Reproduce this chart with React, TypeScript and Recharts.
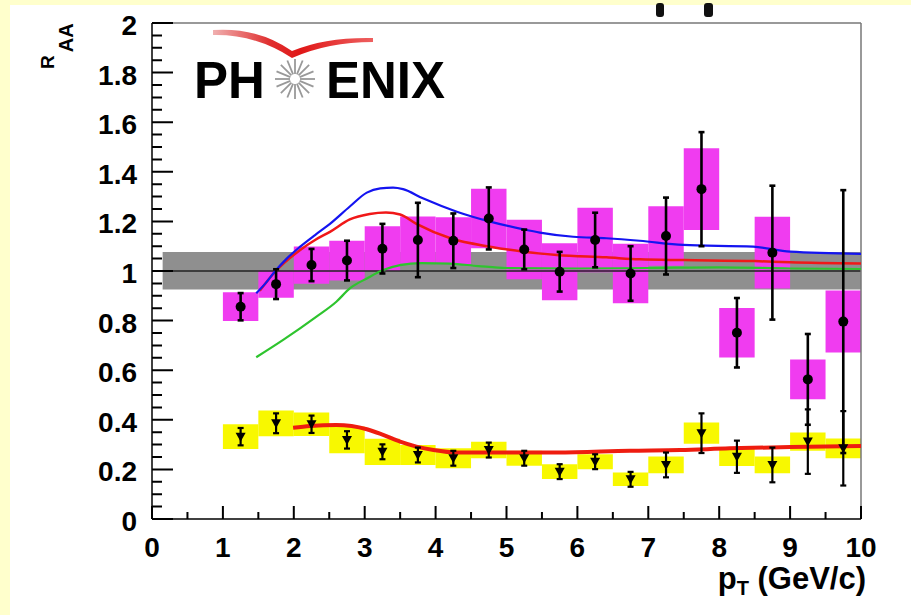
import {
  ComposedChart,
  XAxis,
  YAxis,
  Line,
  Scatter,
  ErrorBar,
  ReferenceArea,
  ReferenceLine,
  Customized,
} from "recharts"

const FONT = "'Liberation Sans', Arial, Helvetica, sans-serif"

// pT bin centres (GeV/c), bins are 0.5 wide
const ptBins = [1.25, 1.75, 2.25, 2.75, 3.25, 3.75, 4.25, 4.75, 5.25, 5.75, 6.25, 6.75, 7.25, 7.75, 8.25, 8.75, 9.25, 9.75]
const binHalf = 0.25

// upper set (magenta boxes)
const upperRaa = [0.856, 0.947, 1.024, 1.042, 1.09, 1.125, 1.122, 1.212, 1.087, 0.997, 1.125, 0.99, 1.141, 1.33, 0.751, 1.074, 0.563, 0.796]
const upperStat = [0.055, 0.06, 0.065, 0.08, 0.1, 0.15, 0.11, 0.125, 0.08, 0.08, 0.11, 0.11, 0.155, 0.23, 0.14, 0.27, 0.183, 0.53]
const upperSys = [0.058, 0.055, 0.075, 0.08, 0.09, 0.095, 0.095, 0.12, 0.12, 0.115, 0.13, 0.12, 0.12, 0.165, 0.1, 0.145, 0.08, 0.125]

// lower set (yellow boxes)
const lowerRaa = [0.332, 0.386, 0.382, 0.319, 0.271, 0.258, 0.245, 0.278, 0.245, 0.191, 0.231, 0.16, 0.218, 0.346, 0.251, 0.218, 0.312, 0.285]
const lowerStat = [0.035, 0.04, 0.035, 0.035, 0.03, 0.03, 0.03, 0.03, 0.03, 0.03, 0.03, 0.03, 0.05, 0.08, 0.065, 0.07, 0.13, 0.15]
const lowerSys = [0.05, 0.052, 0.047, 0.054, 0.053, 0.04, 0.04, 0.033, 0.03, 0.03, 0.03, 0.027, 0.034, 0.043, 0.037, 0.034, 0.037, 0.04]

// normalisation uncertainty band around 1
const normFrom = 0.15
const normLow = 0.925
const normHigh = 1.077

// model curves
const bluePt = [1.47, 1.6, 1.73, 1.9, 2.09, 2.3, 2.51, 2.79, 3.03, 3.22, 3.4, 3.54, 3.82, 4.3, 4.77, 5.24, 5.47, 5.94, 6.41, 6.88, 7.49, 8.48, 9.0, 10]
const blueRaa = [0.91, 0.95, 0.997, 1.05, 1.098, 1.145, 1.19, 1.26, 1.316, 1.333, 1.336, 1.33, 1.293, 1.239, 1.199, 1.168, 1.155, 1.138, 1.132, 1.122, 1.105, 1.098, 1.078, 1.069]

const redPt = [1.52, 1.73, 2.09, 2.3, 2.51, 2.79, 3.07, 3.3, 3.5, 3.73, 4.22, 4.77, 5.24, 5.71, 6.41, 6.88, 7.5, 8.5, 9.0, 10]
const redRaa = [0.92, 0.995, 1.085, 1.125, 1.158, 1.208, 1.23, 1.236, 1.228, 1.19, 1.131, 1.098, 1.078, 1.065, 1.055, 1.047, 1.044, 1.04, 1.035, 1.03]

const greenPt = [1.47, 1.85, 2.32, 2.6, 2.79, 3.03, 3.26, 3.5, 3.8, 4.2, 4.6, 5.0, 6.0, 7.0, 8.0, 9.0, 10]
const greenRaa = [0.652, 0.722, 0.816, 0.876, 0.93, 0.97, 1.004, 1.024, 1.032, 1.03, 1.02, 1.012, 1.01, 1.012, 1.015, 1.01, 1.008]

const lowRedPt = [1.99, 2.23, 2.6, 3.03, 3.26, 3.5, 3.73, 3.97, 4.3, 5.24, 5.71, 6.74, 7.45, 8.15, 9.0, 10]
const lowRedRaa = [0.368, 0.375, 0.379, 0.362, 0.339, 0.312, 0.292, 0.278, 0.268, 0.268, 0.268, 0.275, 0.278, 0.285, 0.29, 0.294]

// axis ticks: labelled majors and unlabelled minors
const xMajor = [0, 1, 2, 3, 4, 5, 6, 7, 8, 9, 10]
const xMinor = [0.5, 1.5, 2.5, 3.5, 4.5, 5.5, 6.5, 7.5, 8.5, 9.5]
const yMajor = [0, 0.2, 0.4, 0.6, 0.8, 1, 1.2, 1.4, 1.6, 1.8, 2]
const yMinor = [
  0.05, 0.1, 0.15, 0.25, 0.3, 0.35, 0.45, 0.5, 0.55, 0.65, 0.7, 0.75, 0.85, 0.9, 0.95,
  1.05, 1.1, 1.15, 1.25, 1.3, 1.35, 1.45, 1.5, 1.55, 1.65, 1.7, 1.75, 1.85, 1.9, 1.95,
]

// plot frame in px (margins + axis sizes below)
const W = 911
const H = 615
const M = { top: 23, right: 50, bottom: 66, left: 92 }
const Y_AXIS_W = 60
const X_AXIS_H = 30
const FRAME = { l: M.left + Y_AXIS_W, r: W - M.right, t: M.top, b: H - M.bottom - X_AXIS_H }
const px = (v: number) => FRAME.l + (v / 10) * (FRAME.r - FRAME.l)
const py = (v: number) => FRAME.b - (v / 2) * (FRAME.b - FRAME.t)

const toXY = (xs: number[], ys: number[]) => xs.map((x, i) => ({ x, y: ys[i] }))

const upperData = ptBins.map((x, i) => ({ x, y: upperRaa[i], err: upperStat[i] }))
const lowerData = ptBins.map((x, i) => ({ x, y: lowerRaa[i], err: lowerStat[i] }))

const XLabel = ({ x, y, payload }: any) => (
  <text x={x} y={y + 38} textAnchor="middle" fontSize={28} fontWeight="bold" fontFamily={FONT} fill="#000">
    {payload.value}
  </text>
)

const YLabel = ({ x, y, payload }: any) => (
  <text x={x - 15} y={y + 12} textAnchor="end" fontSize={28} fontWeight="bold" fontFamily={FONT} fill="#000">
    {payload.value}
  </text>
)

const DownTriangle = ({ cx, cy }: any) => (
  <path d={`M${cx - 5},${cy - 4} L${cx + 5},${cy - 4} L${cx},${cy + 5} Z`} fill="#000" />
)

const Dot = ({ cx, cy }: any) => <circle cx={cx} cy={cy} r={5} fill="#000" />

const rays = [0, 22.5, 45, 67.5, 90, 112.5, 135, 157.5, 180, 202.5, 225, 247.5, 270, 292.5, 315, 337.5]

// inward ticks drawn as plain svg paths
const tickPath =
  [...xMajor, ...xMinor]
    .map((t) => `M${px(t)},${FRAME.b}V${FRAME.b - (xMajor.includes(t) ? 13 : 7)}`)
    .join("") +
  [...yMajor, ...yMinor]
    .map((t) => `M${FRAME.l},${py(t)}H${FRAME.l + (yMajor.includes(t) ? 21 : 10)}`)
    .join("")

// logo, axis titles and the scraps at the top edge
const Decor = () => (
  <g>
    <defs>
      <linearGradient id="swoosh" x1="0" x2="1" y1="0" y2="0">
        <stop offset="0" stopColor="#f0b0b0" />
        <stop offset="0.35" stopColor="#e03030" />
        <stop offset="0.55" stopColor="#e01818" />
        <stop offset="1" stopColor="#ee6060" />
      </linearGradient>
    </defs>
    <path
      d="M213,30 Q258,27 292,51 Q326,37 373,38 L373,42 Q328,42 292,58 Q255,34 213,35 Z"
      fill="url(#swoosh)"
    />
    {rays.map((a) => {
      const r = (a * Math.PI) / 180
      return (
        <line
          key={a}
          x1={295 + 5 * Math.cos(r)}
          y1={79 + 5 * Math.sin(r)}
          x2={295 + 20 * Math.cos(r)}
          y2={79 + 20 * Math.sin(r)}
          stroke="#999"
          strokeWidth={1.8}
        />
      )
    })}
    <text x={194} y={98} fontSize={51} fontWeight="bold" fontFamily={FONT} fill="#000">
      PH
    </text>
    <text x={326} y={98} fontSize={51} fontWeight="bold" fontFamily={FONT} fill="#000">
      ENIX
    </text>
    <text x={866} y={589} textAnchor="end" fontSize={31} fontWeight="bold" fontFamily={FONT} fill="#000">
      p
      <tspan fontSize={20} dy={6}>T</tspan>
      <tspan dy={-6}> (GeV/c)</tspan>
    </text>
    <text transform="translate(54,69) rotate(-90)" fontSize={19} fontWeight="bold" fontFamily={FONT} fill="#000">
      R
      <tspan fontSize={20} dx={3} dy={19}>AA</tspan>
    </text>
    <rect x={656} y={3} width={8} height={14} rx={3} fill="#111" />
    <rect x={704} y={3} width={9} height={14} rx={3} fill="#111" />
  </g>
)

export default function App() {
  return (
    <div style={{ position: "absolute", left: 0, top: 0, width: W, height: H, background: "#ffffcc" }}>
      <div style={{ position: "absolute", left: 10, top: 5, width: W - 10, height: H - 5, background: "#fff" }} />
      <div style={{ position: "absolute", left: 0, top: 0 }}>
        <ComposedChart width={W} height={H} margin={M}>
          <XAxis
            type="number"
            dataKey="x"
            domain={[0, 10]}
            ticks={xMajor}
            interval={0}
            tick={<XLabel />}
            tickLine={false}
            tickSize={0}
            tickMargin={0}
            height={X_AXIS_H}
            axisLine={{ stroke: "#000", strokeWidth: 1.5 }}
            allowDataOverflow
          />
          <YAxis
            type="number"
            domain={[0, 2]}
            ticks={yMajor}
            interval={0}
            tick={<YLabel />}
            tickLine={false}
            tickSize={0}
            tickMargin={0}
            width={Y_AXIS_W}
            axisLine={{ stroke: "#000", strokeWidth: 1.5 }}
            allowDataOverflow
          />
          <ReferenceArea x1={normFrom} x2={10} y1={normLow} y2={normHigh} fill="#8f8f8f" fillOpacity={1} stroke="none" />
          {ptBins.map((x, i) => (
            <ReferenceArea
              key={`u${i}`}
              x1={x - binHalf}
              x2={x + binHalf}
              y1={upperRaa[i] - upperSys[i]}
              y2={upperRaa[i] + upperSys[i]}
              fill="#f03cf0"
              fillOpacity={1}
              stroke="none"
            />
          ))}
          {ptBins.map((x, i) => (
            <ReferenceArea
              key={`l${i}`}
              x1={x - binHalf}
              x2={x + binHalf}
              y1={lowerRaa[i] - lowerSys[i]}
              y2={lowerRaa[i] + lowerSys[i]}
              fill="#f8f800"
              fillOpacity={1}
              stroke="none"
            />
          ))}
          <ReferenceLine
            segment={[
              { x: normFrom, y: 1 },
              { x: 10, y: 1 },
            ]}
            stroke="#222"
            strokeWidth={1.3}
          />
          <ReferenceLine y={2} stroke="#777" strokeWidth={1.5} />
          <ReferenceLine x={10} stroke="#777" strokeWidth={1.5} />
          <Line data={toXY(greenPt, greenRaa)} dataKey="y" type="monotone" stroke="#2ec42e" strokeWidth={2.2} dot={false} isAnimationActive={false} />
          <Line data={toXY(redPt, redRaa)} dataKey="y" type="monotone" stroke="#f01818" strokeWidth={2.5} dot={false} isAnimationActive={false} />
          <Line data={toXY(bluePt, blueRaa)} dataKey="y" type="monotone" stroke="#1414f0" strokeWidth={2.2} dot={false} isAnimationActive={false} />
          <Line data={toXY(lowRedPt, lowRedRaa)} dataKey="y" type="monotone" stroke="#ee1c10" strokeWidth={4} dot={false} isAnimationActive={false} />
          <Scatter data={upperData} dataKey="y" shape={<Dot />} isAnimationActive={false}>
            <ErrorBar dataKey="err" direction="y" width={3} stroke="#000" strokeWidth={2.6} />
          </Scatter>
          <Scatter data={lowerData} dataKey="y" shape={<DownTriangle />} isAnimationActive={false}>
            <ErrorBar dataKey="err" direction="y" width={3} stroke="#000" strokeWidth={2.2} />
          </Scatter>
          <Customized component={<Decor />} />
        </ComposedChart>
      </div>
      <svg width={W} height={H} style={{ position: "absolute", left: 0, top: 0, pointerEvents: "none" }}>
        <path d={tickPath} stroke="#000" strokeWidth={2} fill="none" />
      </svg>
    </div>
  )
}
